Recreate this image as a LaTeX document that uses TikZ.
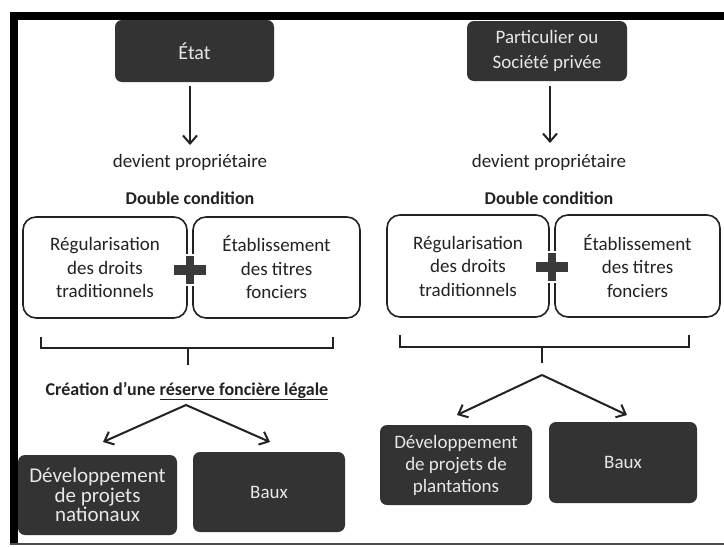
\documentclass[tikz,border=0pt]{standalone}
\usepackage{fontspec}
\setmainfont{Carlito}
\usetikzlibrary{arrows.meta}
\definecolor{boxgray}{HTML}{333333}
\definecolor{boxtext}{HTML}{E8E8E8}
\definecolor{inkc}{HTML}{222222}
\definecolor{plusc}{HTML}{3A3A3A}
\begin{document}
\begin{tikzpicture}[x=1pt,y=-1pt,
  darkbox/.style={fill=boxgray, text=boxtext, rounded corners=7pt, align=center, inner sep=0pt, font=\fontsize{19}{23}\selectfont},
  whitebox/.style={draw=inkc, line width=1.6pt, rounded corners=13pt, fill=white, align=center, inner sep=0pt, text=inkc, font=\fontsize{19}{23.5}\selectfont},
  lbl/.style={font=\fontsize{19}{22}\selectfont, inner sep=0pt, text=inkc},
  blbl/.style={font=\fontsize{18}{22}\selectfont\bfseries, inner sep=0pt, text=inkc},
  arr/.style={draw=inkc, line width=2pt, -{Straight Barb[length=8pt,width=14pt,line width=2pt]}},
  bracec/.style={draw=inkc, line width=2pt},
  plusbar/.style={fill=plusc, draw=white, line width=1.5pt}
]
\useasboundingbox (0,0) rectangle (724,547);
\fill[white] (0,0) rectangle (724,547);
% frame
\fill[black] (10,12) rectangle (724,20);
\fill[black] (10,12) rectangle (18,545);
\fill[black!70] (10,543) rectangle (724,545);

% ---------- left column ----------
\node[darkbox, minimum width=159pt, minimum height=62pt, font=\fontsize{20}{23}\selectfont] (etat) at (194.5,51) {État};
\node[lbl] (dev1) at (190,162) {devient propriétaire};
\draw[arr] (etat.south) ++(-4.5,4) coordinate (a1s) -- (190,145) coordinate (a1e);
\node[blbl] (dbl1) at (190,198) {Double condition};
\node[whitebox, minimum width=164pt, minimum height=101pt] (reg1) at (105,267.5) {Régularisation\\des droits\\traditionnels};
\node[whitebox, minimum width=167pt, minimum height=101pt] (eta1) at (276.5,267.5) {Établissement\\des titres\\fonciers};
\node[plusbar, minimum width=32pt, minimum height=10pt, inner sep=0pt] (plus1h) at (190,270) {};
\node[plusbar, minimum width=10pt, minimum height=30pt, inner sep=0pt] (plus1v) at (190,270) {};
\fill[plusc] (174,265) rectangle (206,275);
\draw[bracec] (41,337) -- (41,348) -- (333,348) -- (333,337);
\draw[bracec] (188,348) -- (188,365);
\node[blbl] (cre1) at (187,391) {Création d’une \underline{réserve foncière légale}};
\coordinate (ap1) at (186,405);
\coordinate (t1l) at (103,442);
\coordinate (t1r) at (270,442);
\draw[arr] (ap1) -- (t1l);
\draw[arr] (ap1) -- (t1r);
\node[darkbox, minimum width=159pt, minimum height=80pt, font=\fontsize{21}{19.5}\selectfont] (devp1) at (97.5,495) {Développement\\de projets\\nationaux};
\node[darkbox, minimum width=152pt, minimum height=80pt] (baux1) at (269,492) {Baux};

% ---------- right column ----------
\node[darkbox, minimum width=160pt, minimum height=60pt, font=\fontsize{19}{25}\selectfont] (part) at (547,51) {Particulier ou\\Société privée};
\node[lbl] (dev2) at (549,162) {devient propriétaire};
\draw[arr] (550,86) -- (550,143);
\node[blbl] (dbl2) at (549,198) {Double condition};
\node[whitebox, minimum width=162pt, minimum height=102pt] (reg2) at (468,266) {Régularisation\\des droits\\traditionnels};
\node[whitebox, minimum width=165pt, minimum height=102pt] (eta2) at (637.5,266) {Établissement\\des titres\\fonciers};
\node[plusbar, minimum width=32pt, minimum height=10pt, inner sep=0pt] (plus2h) at (552,267) {};
\node[plusbar, minimum width=10pt, minimum height=30pt, inner sep=0pt] (plus2v) at (552,267) {};
\fill[plusc] (536,262) rectangle (568,272);
\draw[bracec] (400,335) -- (400,347) -- (689,347) -- (689,335);
\draw[bracec] (542,347) -- (542,363);
\coordinate (ap2) at (542,375);
\coordinate (t2l) at (457,415);
\coordinate (t2r) at (627,415);
\draw[arr] (ap2) -- (t2l);
\draw[arr] (ap2) -- (t2r);
\node[darkbox, minimum width=152pt, minimum height=80pt, font=\fontsize{19}{22}\selectfont] (devp2) at (456,465) {Développement\\de projets de\\plantations};
\node[darkbox, minimum width=148pt, minimum height=81pt] (baux2) at (623,462.5) {Baux};
\end{tikzpicture}
\end{document}
